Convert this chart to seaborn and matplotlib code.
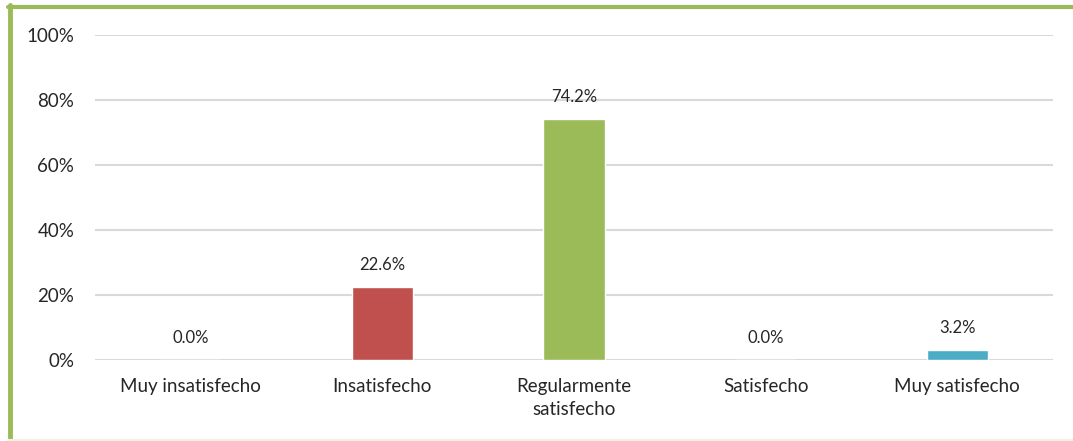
import matplotlib
matplotlib.use("Agg")
import matplotlib.pyplot as plt
import seaborn as sns
import pandas as pd
from matplotlib.lines import Line2D

categories = ["Muy insatisfecho", "Insatisfecho", "Regularmente\nsatisfecho",
              "Satisfecho", "Muy satisfecho"]
values = [0.0, 22.6, 74.2, 0.0, 3.2]
colors = ["#4F81BD", "#C0504D", "#9BBB59", "#8064A2", "#4BACC6"]
yticks = [0, 20, 40, 60, 80, 100]

df = pd.DataFrame({"cat": categories, "val": values})

sns.set_theme(style="white")
plt.rcParams["font.family"] = ["Lato", "DejaVu Sans"]

fig = plt.figure(figsize=(10.73, 4.41), dpi=100)
ax = fig.add_axes([95 / 1073, 81 / 441, 958 / 1073, 325 / 441])

sns.barplot(data=df, x="cat", y="val", hue="cat", palette=colors,
            legend=False, width=0.32, ax=ax, saturation=1)

ax.set_ylim(0, 100)
ax.set_xlim(-0.5, 4.5)
ax.set_yticks(yticks)
ax.set_yticklabels([f"{t}%" for t in yticks], fontsize=13.5)
ax.tick_params(axis="x", labelsize=13.5, pad=13, length=0)
ax.tick_params(axis="y", length=0, pad=15)
for lbl in ax.get_xticklabels():
    lbl.set_linespacing(1.45)
ax.set_xlabel("")
ax.set_ylabel("")
ax.grid(axis="y", color="#D9D9D9", linewidth=1.5)
ax.set_axisbelow(True)
for s in ax.spines.values():
    s.set_visible(False)

for i, v in enumerate(values):
    ax.annotate(f"{v:.1f}%", (i, v), xytext=(0, 10), textcoords="offset points",
                ha="center", va="bottom", fontsize=12)

# green frame (top and left) and faint bottom line
fig.add_artist(Line2D([8 / 1073, 1], [1 - 6.5 / 441] * 2, color="#9BBB59",
                      linewidth=3, transform=fig.transFigure))
fig.add_artist(Line2D([10 / 1073] * 2, [0, 1 - 5 / 441], color="#9BBB59",
                      linewidth=3.5, transform=fig.transFigure))
fig.add_artist(Line2D([8 / 1073, 1], [1.5 / 441] * 2, color="#EEF2E0",
                      linewidth=1.5, transform=fig.transFigure))

fig.savefig("out.png", dpi=100)
